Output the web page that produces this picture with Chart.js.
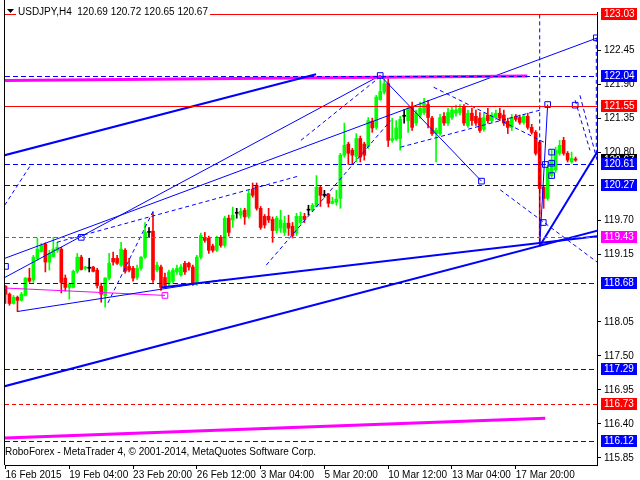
<!DOCTYPE html>
<html>
<head>
<meta charset="utf-8">
<script src="https://cdn.jsdelivr.net/npm/chart.js@4.4.1/dist/chart.umd.min.js"></script>
<style>
  html, body { margin: 0; padding: 0; background: #ffffff; }
  canvas { display: block; }
</style>
</head>
<body>
<canvas id="usdjpyChart" width="640" height="480"></canvas>
<script>
// USDJPY H4 candles
const symbolName = 'USDJPY,H4';
const copyrightText = 'RoboForex - MetaTrader 4, \u00a9 2001-2014, MetaQuotes Software Corp.';

const timeLabels = ['16 Feb 2015', '19 Feb 04:00', '23 Feb 20:00', '26 Feb 12:00', '3 Mar 04:00',
    '5 Mar 20:00', '10 Mar 12:00', '13 Mar 04:00', '17 Mar 20:00'];
const timeLabelBars = [0, 16, 32, 48, 64, 80, 96, 112, 128];
const priceTicks = [122.45, 121.90, 121.35, 120.80, 119.70, 119.15, 118.05, 117.50, 116.95, 116.40, 115.85];

const opens = [
    118.63, 118.50, 118.35, 118.45, 118.40, 118.48, 118.76, 118.73, 119.08, 119.19,
    119.31, 119.02, 119.11, 119.21, 119.23, 118.76, 118.61, 118.61, 118.87, 119.10,
    118.92, 118.92, 118.94, 118.89, 118.63, 118.48, 118.76, 119.08, 119.08, 118.97,
    119.21, 118.95, 118.92, 118.77, 118.92, 119.10, 119.50, 119.52, 118.89, 118.94,
    118.77, 118.68, 118.71, 118.86, 118.81, 119.00, 119.00, 118.94, 118.69, 119.10,
    119.42, 119.41, 119.28, 119.21, 119.42, 119.29, 119.73, 119.70, 119.81, 119.78,
    119.86, 119.76, 120.20, 120.26, 119.89, 119.76, 119.76, 119.71, 119.53, 119.57,
    119.50, 119.65, 119.60, 119.49, 119.66, 119.76, 119.86, 119.86, 119.92, 120.23,
    120.10, 120.12, 119.97, 119.99, 120.05, 120.75, 120.93, 120.83, 120.73, 121.02,
    120.93, 120.89, 121.30, 121.20, 121.65, 121.77, 121.91, 120.99, 121.01, 121.02,
    121.38, 121.31, 121.53, 121.27, 121.40, 121.44, 121.57, 121.35, 121.10, 121.10,
    121.38, 121.27, 121.36, 121.43, 121.44, 121.53, 121.23, 121.43, 121.38, 121.35,
    121.17, 121.40, 121.31, 121.36, 121.43, 121.40, 121.30, 121.20, 121.38, 121.36,
    121.28, 121.38, 121.20, 121.12, 120.96, 120.23, 120.05, 120.42, 120.51, 120.78,
    120.99, 120.78, 120.64, 120.69
];
const highs = [
    118.64, 118.52, 118.48, 118.47, 118.53, 118.77, 118.92, 119.13, 119.41, 119.32,
    119.33, 119.21, 119.42, 119.34, 119.26, 118.81, 118.68, 118.89, 119.16, 119.13,
    118.95, 119.08, 118.95, 118.92, 118.68, 118.77, 119.16, 119.18, 119.13, 119.34,
    119.24, 119.08, 118.95, 118.97, 119.11, 119.66, 119.58, 119.83, 119.02, 118.97,
    118.84, 118.89, 118.92, 118.97, 118.98, 119.03, 119.02, 118.97, 119.13, 119.49,
    119.50, 119.44, 119.31, 119.44, 119.45, 119.76, 119.78, 119.91, 119.89, 119.89,
    119.89, 120.18, 120.30, 120.30, 119.92, 119.79, 119.89, 119.75, 119.76, 119.86,
    119.76, 119.78, 119.66, 119.81, 119.83, 119.81, 119.94, 119.97, 120.42, 120.26,
    120.18, 120.13, 120.07, 120.18, 120.78, 121.27, 120.96, 120.86, 121.10, 121.06,
    120.96, 121.36, 121.35, 121.72, 122.04, 121.99, 121.99, 121.35, 121.31, 121.38,
    121.49, 121.54, 121.61, 121.48, 121.61, 121.67, 121.64, 121.38, 121.19, 121.41,
    121.44, 121.51, 121.54, 121.56, 121.57, 121.57, 121.48, 121.51, 121.48, 121.44,
    121.44, 121.51, 121.44, 121.48, 121.51, 121.48, 121.35, 121.41, 121.41, 121.40,
    121.41, 121.43, 121.25, 121.15, 120.99, 120.26, 120.59, 120.83, 120.88, 120.99,
    121.04, 120.81, 120.80, 120.72
];
const lows = [
    118.35, 118.32, 118.34, 118.22, 118.39, 118.47, 118.69, 118.69, 119.05, 119.18,
    118.86, 118.89, 119.10, 119.18, 118.52, 118.55, 118.42, 118.60, 118.84, 118.89,
    118.89, 118.86, 118.86, 118.60, 118.37, 118.29, 118.73, 118.97, 118.98, 118.95,
    118.84, 118.86, 118.71, 118.74, 118.89, 119.08, 119.42, 118.69, 118.86, 118.56,
    118.60, 118.64, 118.68, 118.82, 118.79, 118.82, 118.89, 118.64, 118.64, 119.07,
    119.34, 119.16, 119.18, 119.19, 119.26, 119.26, 119.44, 119.58, 119.73, 119.73,
    119.63, 119.73, 120.07, 119.86, 119.55, 119.57, 119.66, 119.34, 119.49, 119.50,
    119.45, 119.45, 119.41, 119.45, 119.63, 119.66, 119.78, 119.84, 119.91, 119.92,
    120.07, 119.91, 119.96, 119.94, 119.89, 120.72, 120.60, 120.60, 120.64, 120.64,
    120.67, 120.86, 121.12, 121.17, 121.64, 121.74, 120.89, 120.96, 120.99, 120.83,
    121.27, 121.12, 121.15, 121.23, 121.35, 121.41, 121.19, 121.07, 120.64, 121.07,
    121.23, 121.23, 121.33, 121.38, 121.40, 121.23, 121.20, 121.23, 121.23, 121.12,
    121.14, 121.27, 121.28, 121.33, 121.31, 121.23, 121.10, 121.15, 121.30, 121.25,
    121.25, 121.17, 121.09, 120.75, 119.28, 119.89, 120.02, 120.39, 120.47, 120.75,
    120.75, 120.64, 120.62, 120.65
];
const closes = [
    118.50, 118.35, 118.45, 118.40, 118.50, 118.76, 118.71, 119.10, 119.23, 119.29,
    119.02, 119.16, 119.23, 119.26, 118.69, 118.61, 118.66, 118.87, 119.10, 118.90,
    118.94, 118.93, 118.87, 118.64, 118.50, 118.76, 119.00, 119.02, 119.00, 119.23,
    118.87, 118.89, 118.76, 118.92, 119.10, 119.50, 119.51, 118.73, 118.97, 118.61,
    118.64, 118.86, 118.89, 118.92, 118.94, 118.86, 118.94, 118.68, 119.10, 119.45,
    119.37, 119.21, 119.21, 119.41, 119.29, 119.73, 119.50, 119.78, 119.82, 119.84,
    119.75, 120.13, 120.10, 119.89, 119.58, 119.62, 119.70, 119.53, 119.73, 119.70,
    119.65, 119.57, 119.45, 119.76, 119.76, 119.71, 119.87, 119.94, 120.23, 120.10,
    120.11, 119.97, 120.00, 120.04, 120.75, 120.91, 120.78, 120.75, 121.02, 120.72,
    120.75, 121.31, 121.19, 121.69, 121.78, 121.91, 120.99, 121.02, 121.19, 121.33,
    121.39, 121.51, 121.20, 121.43, 121.51, 121.59, 121.36, 121.10, 121.15, 121.36,
    121.27, 121.44, 121.48, 121.48, 121.51, 121.27, 121.43, 121.31, 121.27, 121.15,
    121.36, 121.31, 121.40, 121.43, 121.35, 121.27, 121.20, 121.36, 121.33, 121.28,
    121.38, 121.20, 121.12, 120.78, 120.21, 120.05, 120.54, 120.67, 120.83, 120.91,
    120.78, 120.67, 120.70, 120.67
];

// horizontal levels, grouped by how they are drawn
const redLevels = [123.03, 121.55];
const redDashLevels = [116.73];
const blueDashLevels = [122.04, 120.61, 120.27, 118.68, 117.29, 116.12];
const magentaDashLevels = [119.43];

// trend lines as [bar1, price1, bar2, price2]
const thickBlueLines = [
    [-0.2, 120.75, 77.9, 122.06],
    [-0.2, 117.01, 148.5, 119.53],
    [39, 118.61, 148.5, 119.44],
    [134, 119.28, 148.5, 120.81]
];
const thickMagentaLines = [
    [-0.2, 121.96, 130.9, 122.03],
    [-0.2, 116.17, 135.4, 116.49]
];
const thinBlueLines = [
    [-0.2, 119.08, 148.5, 122.65],
    [-0.2, 118.77, 94, 122.04],
    [94, 122.04, 119.4, 120.33],
    [134, 119.28, 136, 121.57],
    [3, 118.22, 54, 118.73]
];
const thinMagentaLines = [
    [-0.2, 118.60, 40, 118.48]
];
const dashBlueLines = [
    [134, 123.03, 134, 119.28],
    [148.2, 122.65, 148.2, 120.78],
    [-0.2, 119.94, 6.1, 120.57],
    [12.9, 119.34, 73.4, 120.41],
    [65.4, 118.97, 96.6, 121.31],
    [74.1, 120.99, 93.6, 122.00],
    [37, 119.84, 25.4, 118.32],
    [99.1, 120.88, 134.1, 121.48],
    [107.4, 121.85, 135.4, 120.95],
    [124.1, 120.19, 148.4, 119.02],
    [142.9, 121.64, 146.6, 120.83],
    [144.1, 121.72, 148.4, 120.67]
];
const blueMarkers = [
    [0, 118.95], [19, 119.42], [94, 122.04], [119.4, 120.33], [136, 121.57],
    [135.4, 120.60], [137, 120.80], [137, 120.62], [137, 120.42], [134.9, 119.66],
    [142.9, 121.56], [148.2, 122.65]
];
const magentaMarkers = [[40, 118.48]];

const BLUE = '#0000ff';
const RED = '#ff0000';
const MAGENTA = '#ff00ff';
const BULL = '#00ff00';
const FONT = 'Liberation Sans';
const xMin = -0.125, xMax = 148.375;
const yMin = 115.735, yMax = 123.068;

const barIndex = opens.map((_, i) => i);

function candleColor(i) {
    if (Math.abs(closes[i] - opens[i]) < 0.015) return '#000000';
    return closes[i] > opens[i] ? BULL : RED;
}

function segment(line, color, width, dash) {
    return {
        type: 'line',
        data: [{ x: line[0], y: line[1] }, { x: line[2], y: line[3] }],
        borderColor: color,
        borderWidth: width,
        borderDash: dash || [],
        pointRadius: 0,
        fill: false,
        order: 1
    };
}

const datasets = [
    {
        type: 'bar',
        data: barIndex.map(i => ({ x: i, y: [lows[i], highs[i]] })),
        backgroundColor: barIndex.map(candleColor),
        barThickness: 1,
        grouped: false,
        order: 3
    },
    {
        type: 'bar',
        data: barIndex.map(i => ({ x: i, y: [opens[i], closes[i]] })),
        backgroundColor: barIndex.map(candleColor),
        barThickness: 3,
        minBarLength: 1,
        grouped: false,
        order: 2
    }
];

thickBlueLines.forEach(l => datasets.push(segment(l, BLUE, 2)));
thickMagentaLines.forEach(l => datasets.push(segment(l, MAGENTA, 3)));
thinBlueLines.forEach(l => datasets.push(segment(l, BLUE, 1)));
thinMagentaLines.forEach(l => datasets.push(segment(l, MAGENTA, 1)));
dashBlueLines.forEach(l => datasets.push(segment(l, BLUE, 1, [4, 3])));

datasets.push({
    type: 'scatter',
    data: blueMarkers.map(m => ({ x: m[0], y: m[1] })),
    pointStyle: 'rect',
    pointRadius: 4,
    borderColor: BLUE,
    borderWidth: 1,
    backgroundColor: 'rgba(0,0,0,0)',
    order: 0
});
datasets.push({
    type: 'scatter',
    data: magentaMarkers.map(m => ({ x: m[0], y: m[1] })),
    pointStyle: 'rect',
    pointRadius: 4,
    borderColor: MAGENTA,
    borderWidth: 1,
    backgroundColor: 'rgba(0,0,0,0)',
    order: 0
});

// horizontal price levels, snapped to whole pixels so they stay crisp like MT4
const priceLevels = {
    id: 'priceLevels',
    afterDatasetsDraw(chart) {
        const ctx = chart.ctx;
        const area = chart.chartArea;
        const yScale = chart.scales.y;
        const draw = (prices, color, dash) => prices.forEach(p => {
            const y = Math.round(yScale.getPixelForValue(p)) + 0.5;
            ctx.strokeStyle = color;
            ctx.setLineDash(dash);
            ctx.beginPath();
            ctx.moveTo(area.left, y);
            ctx.lineTo(area.right, y);
            ctx.stroke();
        });
        ctx.save();
        ctx.lineWidth = 1;
        draw(redLevels, RED, []);
        draw(redDashLevels, RED, [4, 3]);
        draw(blueDashLevels, BLUE, [5, 3]);
        draw(magentaDashLevels, MAGENTA, [4, 3]);
        ctx.restore();
    }
};

// header, copyright, left frame and the coloured price boxes on the axis
const terminalDecor = {
    id: 'terminalDecor',
    afterDraw(chart) {
        const ctx = chart.ctx;
        const area = chart.chartArea;
        const yScale = chart.scales.y;
        ctx.save();

        ctx.strokeStyle = '#000000';
        ctx.lineWidth = 1;
        ctx.beginPath();
        ctx.moveTo(area.left - 0.5, 0);
        ctx.lineTo(area.left - 0.5, area.bottom);
        ctx.stroke();

        // header
        const last = closes.length - 1;
        const header = symbolName + '  ' + [opens[last], highs[last], lows[last], closes[last]]
            .map(v => v.toFixed(2)).join(' ');
        ctx.font = '10px "' + FONT + '"';
        const w = ctx.measureText(header).width;
        ctx.fillStyle = '#ffffff';
        ctx.fillRect(16, 6, w + 4, 14);
        ctx.fillStyle = '#000000';
        ctx.beginPath();
        ctx.moveTo(7, 9);
        ctx.lineTo(14, 9);
        ctx.lineTo(10.5, 13);
        ctx.closePath();
        ctx.fill();
        ctx.textBaseline = 'middle';
        ctx.textAlign = 'left';
        ctx.fillText(header, 18, 12);

        ctx.fillText(copyrightText, 5, 452);

        // price boxes
        const box = (price, color) => {
            const y = Math.round(yScale.getPixelForValue(price));
            ctx.fillStyle = color;
            ctx.fillRect(yScale.left + 4, y - 6, 36, 12);
            ctx.fillStyle = '#ffffff';
            ctx.fillText(price.toFixed(2), yScale.left + 7, y + 0.5);
        };
        box(closes[last], '#000000');
        redLevels.forEach(p => box(p, RED));
        redDashLevels.forEach(p => box(p, RED));
        blueDashLevels.forEach(p => box(p, BLUE));
        magentaDashLevels.forEach(p => box(p, MAGENTA));
        ctx.restore();
    }
};

new Chart(document.getElementById('usdjpyChart').getContext('2d'), {
    data: { datasets: datasets },
    options: {
        responsive: false,
        animation: false,
        layout: { padding: { left: 3, top: 12, right: 0, bottom: 0 } },
        plugins: { legend: { display: false }, tooltip: { enabled: false } },
        scales: {
            x: {
                type: 'linear',
                position: 'bottom',
                offset: false,
                min: xMin,
                max: xMax,
                afterBuildTicks: s => { s.ticks = timeLabelBars.map(v => ({ value: v })); },
                afterFit: s => { s.height = 15; s.paddingLeft = 0; s.paddingRight = 0; },
                ticks: {
                    autoSkip: false,
                    maxRotation: 0,
                    align: 'start',
                    padding: 0,
                    color: '#000000',
                    font: { family: FONT, size: 10 },
                    callback: v => timeLabels[timeLabelBars.indexOf(v)]
                },
                grid: { offset: false, drawOnChartArea: false, drawTicks: true, tickLength: 4, color: '#000000' },
                border: { display: true, color: '#000000' }
            },
            y: {
                type: 'linear',
                position: 'right',
                min: yMin,
                max: yMax,
                afterBuildTicks: s => { s.ticks = priceTicks.map(v => ({ value: v })); },
                afterFit: s => { s.width = 43; s.paddingTop = 0; s.paddingBottom = 0; },
                ticks: {
                    autoSkip: false,
                    padding: 3,
                    color: '#000000',
                    font: { family: FONT, size: 10 },
                    callback: v => v.toFixed(2)
                },
                grid: { drawOnChartArea: false, drawTicks: true, tickLength: 4, color: '#000000' },
                border: { display: true, color: '#000000' }
            }
        }
    },
    plugins: [priceLevels, terminalDecor]
});
</script>
</body>
</html>
